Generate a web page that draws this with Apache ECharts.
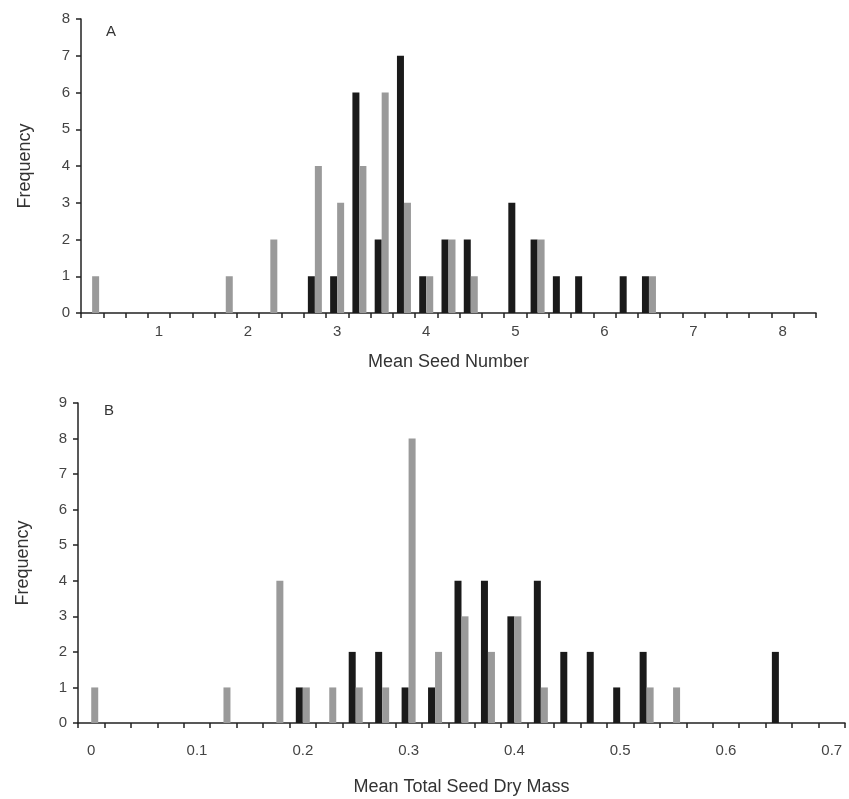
<!DOCTYPE html>
<html>
<head>
<meta charset="utf-8">
<script src="https://cdn.jsdelivr.net/npm/echarts@6/dist/echarts.min.js"></script>
<style>
html,body{margin:0;padding:0;background:#fff;}
#c{width:849px;height:799px;}
</style>
</head>
<body>
<div id="c"></div>
<script>
// Panel A: Mean Seed Number (bins of 0.25)
const catsA = ['0.25','0.5','0.75','1','1.25','1.5','1.75','2','2.25','2.5','2.75','3','3.25','3.5','3.75','4','4.25','4.5','4.75','5','5.25','5.5','5.75','6','6.25','6.5','6.75','7','7.25','7.5','7.75','8','8.25'];
const blackA = [0,0,0,0,0,0,0,0,0,0,1,1,6,2,7,1,2,2,0,3,2,1,1,0,1,1,0,0,0,0,0,0,0];
const grayA  = [1,0,0,0,0,0,1,0,2,0,4,3,4,6,3,1,2,1,0,0,2,0,0,0,0,1,0,0,0,0,0,0,0];
const tickLabelsA = ['1','2','3','4','5','6','7','8'];

// Panel B: Mean Total Seed Dry Mass (bins of 0.025)
const catsB = ['0','0.025','0.05','0.075','0.1','0.125','0.15','0.175','0.2','0.225','0.25','0.275','0.3','0.325','0.35','0.375','0.4','0.425','0.45','0.475','0.5','0.525','0.55','0.575','0.6','0.625','0.65','0.675','0.7'];
const blackB = [0,0,0,0,0,0,0,0,1,0,2,2,1,1,4,4,3,4,2,2,1,2,0,0,0,0,2,0,0];
const grayB  = [1,0,0,0,0,1,0,4,1,1,1,1,8,2,3,2,3,1,0,0,0,1,1,0,0,0,0,0,0];
const tickLabelsB = ['0','0.1','0.2','0.3','0.4','0.5','0.6','0.7'];

const FONT = '"Liberation Sans", Arial, sans-serif';
const AX = '#222';
const TXT = '#444';
const BLACK = '#1a1a1a';
const GRAY = '#9a9a9a';

function xAxis(gi, cats, labels, name, labelMargin, nameGap) {
  return {
    type: 'category', gridIndex: gi, data: cats, boundaryGap: true,
    axisLine: {lineStyle: {color: AX, width: 1.5}},
    axisTick: {show: true, interval: 0, length: 5, lineStyle: {color: AX, width: 1.5}},
    axisLabel: {interval: (i, v) => labels.includes(v), color: TXT, fontSize: 15, fontFamily: FONT, margin: labelMargin},
    name: name, nameLocation: 'middle', nameGap: nameGap,
    nameTextStyle: {color: '#333', fontSize: 18, fontFamily: FONT},
    splitLine: {show: false}
  };
}
function yAxis(gi, max, gap) {
  return {
    type: 'value', gridIndex: gi, min: 0, max: max, interval: 1,
    axisLine: {show: true, lineStyle: {color: AX, width: 1.5}},
    axisTick: {show: true, length: 5, lineStyle: {color: AX, width: 1.5}},
    axisLabel: {color: TXT, fontSize: 15, fontFamily: FONT, margin: 11},
    splitLine: {show: false},
    name: 'Frequency', nameLocation: 'middle', nameGap: gap,
    nameTextStyle: {color: '#333', fontSize: 18, fontFamily: FONT}
  };
}
function bar(xi, data, color) {
  return {type: 'bar', xAxisIndex: xi, yAxisIndex: xi, data: data, barWidth: 7, barGap: '0%',
    itemStyle: {color: color}, animation: false, silent: true};
}

const chart = echarts.init(document.getElementById('c'), null, {renderer: 'canvas'});
chart.setOption({
  backgroundColor: '#fff',
  animation: false,
  grid: [
    {left: 81, top: 19, width: 735, height: 294},
    {left: 78, top: 403, width: 767, height: 320}
  ],
  xAxis: [
    xAxis(0, catsA, tickLabelsA, 'Mean Seed Number', 11, 40),
    xAxis(1, catsB, tickLabelsB, 'Mean Total Seed Dry Mass', 20, 55)
  ],
  yAxis: [yAxis(0, 8, 47), yAxis(1, 9, 46)],
  series: [
    bar(0, blackA, BLACK), bar(0, grayA, GRAY),
    bar(1, blackB, BLACK), bar(1, grayB, GRAY)
  ],
  graphic: [
    {type: 'text', left: 106, top: 24, style: {text: 'A', fontSize: 15, fontFamily: FONT, fill: '#333'}},
    {type: 'text', left: 104, top: 403, style: {text: 'B', fontSize: 15, fontFamily: FONT, fill: '#333'}}
  ]
});
</script>
</body>
</html>
